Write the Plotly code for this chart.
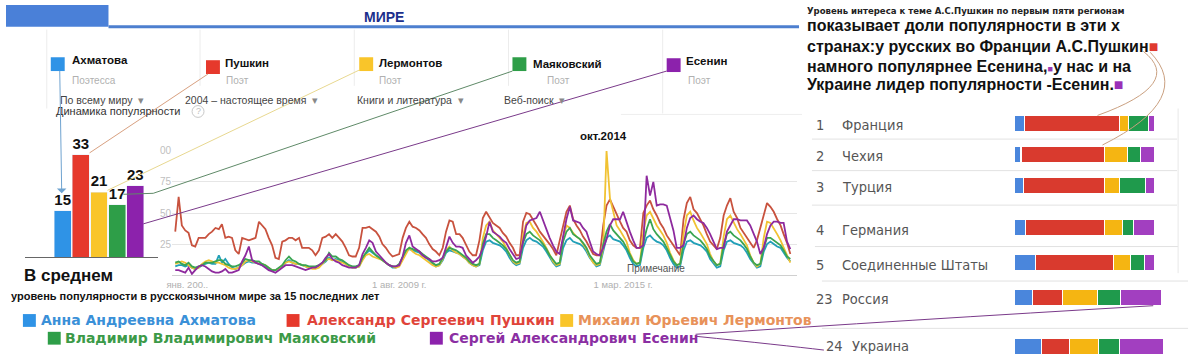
import pandas as pd
import plotly.graph_objects as go

W, H = 1200, 354


def px(x):
    return x / W


def py(y):
    return 1 - y / H


# ---------------- data ----------------
poets_short = ["Ахматова", "Пушкин", "Лермонтов", "Маяковский", "Есенин"]
poets_role = ["Поэтесса", "Поэт", "Поэт", "Поэт", "Поэт"]
poets_full = ["Анна Андреевна Ахматова", "Александр Сергеевич Пушкин",
              "Михаил Юрьевич Лермонтов", "Владимир Владимирович Маяковский",
              "Сергей Александрович Есенин"]
avg_popularity = [15, 33, 21, 17, 23]

# Google Trends monthly interest, Jan 2004 .. May 2019
akhmatova = [
    7, 8, 8, 7, 8, 6, 5, 6, 8, 9, 10, 9,
    9, 16, 10, 13, 9, 6, 5, 6, 8, 10, 11, 10,
    10, 9, 8, 7, 5, 4, 4, 5, 7, 10, 12, 10,
    9, 9, 8, 7, 6, 6, 6, 7, 9, 11, 14, 12,
    13, 12, 11, 9, 7, 6, 6, 7, 13, 17, 20, 18,
    16, 14, 12, 10, 8, 6, 6, 8, 14, 19, 21, 20,
    19, 18, 16, 14, 12, 9, 7, 8, 12, 18, 20, 19,
    18, 17, 15, 13, 10, 8, 7, 8, 20, 27, 28, 26,
    25, 24, 22, 19, 14, 10, 8, 9, 22, 28, 30, 28,
    27, 25, 23, 19, 14, 10, 7, 8, 22, 28, 30, 27,
    26, 25, 23, 19, 14, 10, 7, 8, 20, 30, 32, 29,
    28, 27, 24, 20, 14, 9, 7, 8, 22, 30, 32, 29,
    27, 26, 24, 20, 14, 9, 6, 7, 20, 27, 28, 26,
    25, 24, 22, 19, 13, 9, 6, 7, 20, 27, 28, 26,
    25, 24, 22, 18, 13, 9, 6, 7, 19, 25, 27, 25,
    23, 22, 18, 14, 11]
pushkin = [
    35, 63, 40, 36, 34, 24, 23, 30, 30, 30, 33, 35,
    38, 37, 41, 30, 31, 30, 20, 17, 30, 29, 28, 29,
    30, 43, 40, 37, 30, 24, 14, 13, 27, 28, 30, 30,
    28, 30, 22, 22, 22, 20, 16, 20, 30, 31, 33, 30,
    33, 30, 27, 22, 16, 15, 15, 22, 38, 38, 39, 37,
    35, 31, 25, 22, 18, 15, 16, 17, 30, 38, 43, 39,
    38, 36, 33, 30, 25, 21, 19, 16, 22, 35, 44, 43,
    33, 33, 30, 24, 19, 16, 16, 28, 46, 51, 46, 42,
    40, 38, 34, 31, 26, 22, 16, 16, 43, 50, 49, 45,
    40, 35, 32, 29, 25, 21, 16, 28, 40, 51, 56, 45,
    40, 36, 31, 27, 22, 17, 16, 16, 40, 56, 61, 55,
    48, 43, 38, 35, 28, 24, 22, 22, 50, 56, 60, 53,
    48, 42, 38, 32, 28, 24, 20, 16, 45, 58, 63, 53,
    50, 45, 40, 33, 27, 24, 21, 30, 48, 56, 62, 51,
    46, 38, 34, 30, 26, 22, 28, 38, 50, 58, 55, 51,
    45, 40, 33, 26, 17]
lermontov = [
    9, 10, 11, 10, 8, 6, 5, 6, 9, 11, 12, 11,
    10, 10, 9, 8, 6, 5, 5, 6, 8, 11, 12, 11,
    10, 9, 9, 8, 6, 4, 4, 5, 8, 10, 11, 10,
    9, 9, 8, 7, 6, 5, 5, 6, 9, 12, 13, 12,
    12, 11, 10, 9, 7, 6, 6, 7, 12, 16, 17, 15,
    14, 13, 12, 10, 8, 7, 6, 7, 12, 18, 22, 19,
    17, 16, 14, 12, 10, 8, 7, 8, 13, 20, 23, 20,
    18, 17, 15, 13, 10, 8, 7, 9, 30, 40, 43, 36,
    33, 30, 27, 22, 16, 11, 9, 10, 32, 42, 43, 38,
    35, 31, 27, 22, 16, 11, 8, 9, 30, 40, 38, 34,
    31, 29, 25, 21, 15, 10, 8, 9, 22, 100, 62, 50,
    40, 36, 32, 27, 18, 12, 9, 10, 35, 48, 51, 45,
    40, 36, 32, 26, 18, 12, 8, 9, 33, 48, 51, 44,
    38, 34, 30, 25, 17, 11, 8, 9, 31, 45, 48, 42,
    37, 33, 29, 24, 16, 10, 7, 9, 30, 43, 42, 38,
    33, 28, 22, 15, 10]
mayakovsky = [
    10, 11, 9, 8, 10, 7, 6, 7, 8, 10, 10, 10,
    11, 12, 12, 9, 8, 7, 7, 8, 10, 13, 12, 12,
    11, 11, 9, 8, 6, 4, 4, 6, 8, 12, 15, 12,
    11, 9, 8, 8, 7, 7, 7, 8, 10, 12, 18, 15,
    15, 13, 12, 10, 8, 7, 7, 8, 14, 18, 22, 19,
    16, 14, 12, 10, 8, 7, 7, 9, 15, 20, 22, 21,
    20, 19, 17, 15, 13, 10, 8, 9, 14, 19, 22, 21,
    20, 18, 16, 14, 11, 9, 8, 9, 25, 33, 33, 30,
    28, 26, 24, 21, 16, 12, 10, 11, 26, 33, 35, 32,
    30, 28, 25, 21, 16, 12, 9, 10, 27, 35, 38, 33,
    31, 29, 26, 22, 16, 12, 9, 10, 25, 35, 41, 36,
    33, 30, 27, 22, 16, 11, 9, 10, 26, 37, 45, 37,
    33, 30, 27, 22, 16, 11, 8, 9, 25, 33, 35, 32,
    30, 28, 25, 21, 15, 11, 8, 9, 24, 33, 35, 32,
    30, 28, 25, 21, 15, 10, 8, 9, 22, 30, 30, 28,
    26, 24, 20, 15, 13]
yesenin = [
    4, 4, 3, 2, 6, 1, 4, 7, 8, 7, 5, 3,
    2, 2, 3, 5, 2, 2, 3, 4, 11, 16, 23, 12,
    10, 9, 8, 6, 4, 3, 2, 4, 6, 8, 8, 8,
    7, 6, 5, 4, 5, 6, 6, 8, 10, 14, 17, 13,
    11, 10, 8, 7, 6, 6, 6, 8, 17, 22, 28, 26,
    19, 16, 13, 10, 8, 7, 7, 8, 15, 26, 32, 23,
    21, 19, 16, 14, 13, 11, 11, 12, 14, 22, 31, 26,
    23, 23, 22, 16, 13, 10, 12, 15, 22, 31, 43, 35,
    33, 31, 28, 26, 21, 17, 13, 14, 27, 40, 44, 45,
    46, 51, 44, 38, 30, 24, 19, 17, 33, 45, 55, 44,
    43, 42, 38, 35, 27, 19, 17, 16, 22, 29, 40, 45,
    45, 45, 51, 42, 35, 28, 22, 22, 24, 80, 64, 75,
    56, 57, 57, 56, 45, 36, 22, 22, 24, 38, 46, 48,
    45, 43, 42, 38, 33, 27, 21, 22, 22, 35, 40, 45,
    45, 44, 44, 44, 40, 34, 27, 17, 22, 33, 40, 43,
    43, 42, 42, 27, 21]
months = pd.date_range("2004-01-01", periods=len(pushkin), freq="MS")
trend_series = [akhmatova, pushkin, lermontov, mayakovsky, yesenin]

x_tick_vals = ["2004-04-20", "2009-08-01", "2015-03-01"]
x_tick_text = ["янв. 200..", "1 авг. 2009 г.", "1 мар. 2015 г."]
y_tick_vals = [25, 50, 75, 100]
y_tick_text = ["25", "50", "75", "00"]

# regional shares (top regions)
ranks = ["1", "2", "3", "4", "5", "23", "24"]
countries = ["Франция", "Чехия", "Турция", "Германия", "Соединенные Штаты", "Россия", "Украина"]
share_akhmatova = [11, 7, 10, 12, 22, 19, 28]
share_pushkin = [95, 84, 81, 79, 78, 30, 28]
share_lermontov = [9, 23, 15, 18, 17, 35, 29]
share_mayakovsky = [20, 13, 26, 11, 14, 23, 21]
share_yesenin = [6, 14, 9, 21, 10, 41, 44]
shares = [share_akhmatova, share_pushkin, share_lermontov, share_mayakovsky, share_yesenin]

# ---------------- styles ----------------
bar_colors = ["#2f93e6", "#e6392c", "#f9c52a", "#2e9e48", "#8c22ac"]
line_colors = ["#22a0b8", "#c8523e", "#f1c232", "#3aa552", "#8e2a9e"]
share_colors = ["#4a86dc", "#d93a2e", "#f5b512", "#1f9a4c", "#a23fc0"]
legend_text_colors = ["#3a90d8", "#e0443a", "#e8925a", "#3c9a48", "#8b2fa3"]
FONT = "Liberation Sans, Arial, sans-serif"
NARROW = "DejaVu Sans Condensed, Liberation Sans Narrow, sans-serif"

fig = go.Figure()

# ---- trends line chart (xaxis / yaxis) ----
for i, s in enumerate(trend_series):
    fig.add_trace(go.Scatter(x=months, y=s, mode="lines", name=poets_short[i],
                             line=dict(color=line_colors[i], width=1.8),
                             cliponaxis=False, xaxis="x", yaxis="y"))

# ---- average popularity bars (xaxis2 / yaxis2) ----
fig.add_trace(go.Bar(x=poets_short, y=avg_popularity, marker_color=bar_colors,
                     width=0.93, text=[str(v) for v in avg_popularity],
                     texttemplate="<b>%{text}</b>",
                     textposition="outside", constraintext="none", cliponaxis=False,
                     textfont=dict(family=FONT, size=15, color="#111"),
                     xaxis="x2", yaxis="y2"))

# ---- regional stacked bars ----
groups = [  # (start, end, first row centre px, row pitch px, top px, bottom px)
    (0, 3, 120, 31.5, 104, 199),
    (3, 6, 226, 35.25, 208, 314),
    (6, 7, 347, 30, 332, 354),
]
layout_axes = {}
annotations = []
for gi, (a, b, c0, s, top, bot) in enumerate(groups):
    k = gi + 3
    for j in range(5):
        fig.add_trace(go.Bar(orientation="h", x=shares[j][a:b], y=countries[a:b],
                             marker=dict(color=share_colors[j], line=dict(color="white", width=1.2)),
                             width=16.8 / s, xaxis=f"x{k}", yaxis=f"y{k}"))
    layout_axes[f"xaxis{k}"] = dict(domain=[px(1013), px(1163)], range=[0, 150], visible=False,
                                    anchor=f"y{k}", fixedrange=True)
    layout_axes[f"yaxis{k}"] = dict(domain=[py(bot), py(top)],
                                    range=[(bot - c0) / s, (top - c0) / s],
                                    type="category", categoryorder="array",
                                    categoryarray=countries[a:b], visible=False,
                                    anchor=f"x{k}")
    for r in range(a, b):
        xoff = 10 if r == 6 else 0
        ysh = 1 if r == 6 else -2
        for text, xx in ((ranks[r], 812 + xoff), (countries[r], 838 + xoff)):
            annotations.append(dict(text=text, x=px(xx), y=countries[r], xref="paper",
                                    yref=f"y{k}", xanchor="left", yanchor="middle", yshift=ysh,
                                    showarrow=False,
                                    font=dict(family=NARROW, size=14.5, color="#555")))


def txt(text, x, y, size=11, color="#222", bold=False, anchor="left", family=FONT):
    if bold:
        text = f"<b>{text}</b>"
    annotations.append(dict(text=text, x=px(x), y=py(y), xref="paper", yref="paper",
                            xanchor=anchor, yanchor="middle", showarrow=False,
                            font=dict(family=family, size=size, color=color)))


shapes = []


def rect(x0, y0, x1, y1, color, line=None):
    shapes.append(dict(type="rect", xref="paper", yref="paper", x0=px(x0), x1=px(x1),
                       y0=py(y1), y1=py(y0), fillcolor=color,
                       line=dict(width=0) if line is None else line, layer="above"))


def seg(x0, y0, x1, y1, color, width=1):
    shapes.append(dict(type="line", xref="paper", yref="paper", x0=px(x0), y0=py(y0),
                       x1=px(x1), y1=py(y1), line=dict(color=color, width=width)))


def path(points, color, width=1):
    d = "M {} {}".format(px(points[0][0]), py(points[0][1]))
    rest = points[1:]
    d += " Q " + " ".join("{} {}".format(px(x), py(y)) for x, y in rest)
    shapes.append(dict(type="path", xref="paper", yref="paper", path=d,
                       line=dict(color=color, width=width)))


# ---- header ----
rect(0, 0, 103, 22, "#4a80d8")
seg(103, 22, 797, 22, "#4d7fcf", 3)
txt("МИРЕ", 380, 12, 14, "#1c2f8c", True, "center")

# trends header panels
for xd, y1 in [(41, 105), (195, 82), (350, 82), (505, 82), (660, 110)]:
    seg(xd, 25, xd, y1, "#ececec", 1)
seg(618, 111, 800, 111, "#eeeeee", 1)
sq_pos = [(45, 53), (201, 56), (355, 53), (509, 53), (664, 54)]
name_pos = [(64, 56), (218, 59), (373, 59), (528, 60), (681, 57)]
role_pos = [(64, 77), (219, 77), (373, 77), (542, 77), (683, 77)]
for i in range(5):
    sx, sy = sq_pos[i]
    rect(sx, sy, sx + 14, sy + 14, bar_colors[i])
    txt(poets_short[i], name_pos[i][0], name_pos[i][1], 11.5, "#111", True)
    txt(poets_role[i], role_pos[i][0], role_pos[i][1], 10, "#b0b0b0")
arrow = "<span style='color:#888'>▾</span>"
txt("По всему миру  " + arrow, 52, 96, 10.5, "#444")
txt("2004 – настоящее время  " + arrow, 178, 96, 10.5, "#444")
txt("Книги и литература  " + arrow, 351, 96, 10.5, "#444")
txt("Веб-поиск  " + arrow, 498, 96, 10.5, "#444")
txt("Динамика популярности", 48, 108, 11, "#333")
shapes.append(dict(type="circle", xref="paper", yref="paper", x0=px(187), x1=px(199),
                   y0=py(114), y1=py(102), line=dict(color="#c8c8c8", width=1)))
txt("?", 193, 108, 9, "#c0c0c0", False, "center")

# left bars captions
txt("В среднем", 16, 274, 17, "#111", True)
txt("уровень популярности в русскоязычном мире за 15 последних лет", 3, 295, 11, "#111", True)

# line chart annotations
txt("окт.2014", 600, 133, 11.5, "#111", True, "center")
txt("Примечание", 653, 267, 10, "#555", False, "center")

# connector lines from header squares to average bars
annotations.append(dict(text="", x=px(56), y=py(191), xref="paper", yref="paper",
                        ax=-2, ay=-124, showarrow=True, arrowhead=1, arrowsize=1.6,
                        arrowwidth=1, arrowcolor="#6fa3d0"))
seg(84, 150, 203, 70, "#d8a080", 1)
seg(102, 188, 355, 66, "#e8d890", 1)
seg(118, 192, 148, 191, "#5f8a68", 1)
seg(148, 191, 509, 67, "#5f8a68", 1)
seg(138, 222, 664, 67, "#7a3a8a", 1)

# ---- right panel ----
txt("Уровень интереса к теме А.С.Пушкин по первым пяти регионам", 803, 6, 9.5, "#222", True,
    family=NARROW)
sq_red = "<span style='color:#e03a30'>■</span>"
sq_pur_small = "<span style='color:#9a3ab0;font-size:9px'>■</span>"
sq_pur = "<span style='color:#9a30b8'>■</span>"
txt("показывает доли популярности в эти х", 803, 21, 16, "#111", True)
txt("странах:у русских во Франции А.С.Пушкин" + sq_red, 803, 42, 16, "#111", True)
txt("намного популярнее Есенина," + sq_pur_small + "у нас и на", 803, 62, 16, "#111", True)
txt("Украине лидер популярности -Есенин." + sq_pur, 803, 81, 16, "#111", True)
for yy, x0, x1 in [(136, 810, 1177), (168, 810, 1177), (203, 810, 1177), (245, 813, 1178),
                   (280, 820, 1188), (328, 820, 1188)]:
    seg(x0, yy, x1, yy, "#e2e2e2", 1)
seg(1178, 105, 1178, 272, "#e8e8e8", 1)
path([(1143, 47), (1185, 80), (1097, 112)], "#caa080", 1)
path([(1150, 48), (1195, 95), (1102, 142)], "#caa080", 1)
path([(693, 334), (900, 320), (1153, 305)], "#7a3a8a", 1)
path([(693, 336), (780, 345), (822, 350)], "#7a3a8a", 1)

# ---- bottom legend ----
leg = [(17, 320, 33), (282, 320, 300), (557, 320, 573), (42, 338, 57), (426, 338, 443)]
for i in range(5):
    sx, sy, tx = leg[i]
    rect(sx, sy - 6.5, sx + 13, sy + 6.5, bar_colors[i])
    txt(poets_full[i], tx, sy, 14, legend_text_colors[i], True, family="DejaVu Sans, sans-serif")

fig.update_layout(
    width=W, height=H, margin=dict(l=0, r=0, t=0, b=0),
    paper_bgcolor="white", plot_bgcolor="rgba(0,0,0,0)",
    showlegend=False, barmode="stack", font=dict(family=FONT),
    xaxis=dict(domain=[px(167), px(795)], range=["2003-12-04", "2019-07-01"],
               type="date", tickvals=x_tick_vals, ticktext=x_tick_text,
               tickfont=dict(size=9.5, color="#b0b0b0"), showgrid=False,
               showline=True, linecolor="#d0d0d0", ticks="", anchor="y", fixedrange=True),
    yaxis=dict(domain=[py(274), py(148)], range=[0, 100], tickvals=y_tick_vals,
               ticktext=y_tick_text, tickfont=dict(size=10, color="#c0c0c0"),
               showgrid=True, gridcolor="#e6e6e6", zeroline=False, ticks="",
               anchor="x", fixedrange=True),
    xaxis2=dict(domain=[px(19), px(153)], range=[-2.08, 5.26], showticklabels=False,
                showline=True, linecolor="#666", linewidth=1, showgrid=False, ticks="",
                anchor="y2", fixedrange=True),
    yaxis2=dict(domain=[py(256), py(100)], range=[0, 49.5], visible=False,
                anchor="x2", fixedrange=True),
    annotations=annotations, shapes=shapes,
    **layout_axes,
)

fig.write_html("out.html")
